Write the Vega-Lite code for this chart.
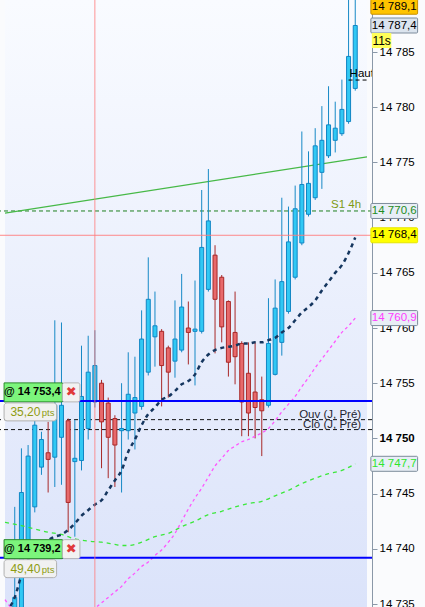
{
  "$schema": "https://vega.github.io/schema/vega-lite/v6.json",
  "width": 372,
  "height": 607,
  "autosize": "none",
  "padding": {"left": 0, "top": 0, "right": 53, "bottom": 0},
  "background": "#fafbfd",
  "config": {
    "view": {"stroke": null},
    "font": "Liberation Sans",
    "axis": {"grid": false}
  },
  "datasets": {
    "candles": [
      {"i":0,"o":14734.0,"h":14743.8,"l":14733.5,"c":14735.6},
      {"i":1,"o":14734.0,"h":14749.1,"l":14733.5,"c":14745.1},
      {"i":2,"o":14740.1,"h":14749.4,"l":14739.7,"c":14748.4},
      {"i":3,"o":14743.8,"h":14752.1,"l":14743.3,"c":14751.2},
      {"i":4,"o":14747.4,"h":14750.6,"l":14746.7,"c":14749.9},
      {"i":5,"o":14748.7,"h":14751.5,"l":14745.1,"c":14748.1},
      {"i":6,"o":14748.3,"h":14760.7,"l":14745.6,"c":14753.0},
      {"i":7,"o":14750.1,"h":14760.5,"l":14745.8,"c":14753.0},
      {"i":8,"o":14751.6,"h":14751.8,"l":14741.5,"c":14744.2},
      {"i":9,"o":14747.9,"h":14751.7,"l":14741.1,"c":14748.2},
      {"i":10,"o":14748.0,"h":14758.4,"l":14747.1,"c":14753.8},
      {"i":11,"o":14750.9,"h":14759.3,"l":14749.9,"c":14756.0},
      {"i":12,"o":14753.3,"h":14759.8,"l":14752.8,"c":14756.6},
      {"i":13,"o":14755.0,"h":14755.3,"l":14747.3,"c":14751.5},
      {"i":14,"o":14753.2,"h":14753.7,"l":14746.4,"c":14750.1},
      {"i":15,"o":14751.8,"h":14752.1,"l":14745.6,"c":14749.4},
      {"i":16,"o":14750.7,"h":14755.0,"l":14745.1,"c":14750.9},
      {"i":17,"o":14750.7,"h":14757.8,"l":14749.9,"c":14754.0},
      {"i":18,"o":14752.3,"h":14757.4,"l":14749.0,"c":14753.7},
      {"i":19,"o":14752.9,"h":14761.6,"l":14752.6,"c":14759.0},
      {"i":20,"o":14756.0,"h":14766.4,"l":14755.7,"c":14762.6},
      {"i":21,"o":14759.2,"h":14763.3,"l":14756.5,"c":14760.2},
      {"i":22,"o":14759.7,"h":14759.9,"l":14752.9,"c":14756.6},
      {"i":23,"o":14758.2,"h":14758.4,"l":14753.7,"c":14756.0},
      {"i":24,"o":14757.0,"h":14762.5,"l":14755.5,"c":14759.0},
      {"i":25,"o":14758.0,"h":14764.9,"l":14757.8,"c":14761.9},
      {"i":26,"o":14760.0,"h":14762.4,"l":14756.7,"c":14759.6},
      {"i":27,"o":14759.7,"h":14764.3,"l":14754.8,"c":14759.9},
      {"i":28,"o":14759.7,"h":14772.5,"l":14759.5,"c":14767.3},
      {"i":29,"o":14763.5,"h":14774.4,"l":14763.3,"c":14769.7},
      {"i":30,"o":14766.6,"h":14767.5,"l":14757.7,"c":14762.6},
      {"i":31,"o":14764.6,"h":14764.8,"l":14758.7,"c":14760.1},
      {"i":32,"o":14762.4,"h":14762.5,"l":14755.6,"c":14756.9},
      {"i":33,"o":14759.6,"h":14763.3,"l":14754.9,"c":14757.4},
      {"i":34,"o":14758.6,"h":14758.8,"l":14750.2,"c":14753.3},
      {"i":35,"o":14755.9,"h":14758.7,"l":14750.2,"c":14752.3},
      {"i":36,"o":14754.2,"h":14758.7,"l":14750.0,"c":14752.8},
      {"i":37,"o":14753.5,"h":14755.6,"l":14748.4,"c":14752.5},
      {"i":38,"o":14753.0,"h":14762.7,"l":14752.8,"c":14758.6},
      {"i":39,"o":14755.8,"h":14764.4,"l":14755.7,"c":14761.8},
      {"i":40,"o":14758.7,"h":14771.8,"l":14757.5,"c":14764.2},
      {"i":41,"o":14761.5,"h":14771.0,"l":14761.3,"c":14767.8},
      {"i":42,"o":14764.6,"h":14772.9,"l":14764.4,"c":14770.8},
      {"i":43,"o":14767.7,"h":14777.8,"l":14767.5,"c":14773.0},
      {"i":44,"o":14770.3,"h":14776.0,"l":14770.1,"c":14773.1},
      {"i":45,"o":14771.8,"h":14778.1,"l":14771.6,"c":14776.5},
      {"i":46,"o":14774.1,"h":14780.1,"l":14772.6,"c":14777.0},
      {"i":47,"o":14775.6,"h":14781.9,"l":14775.4,"c":14778.4},
      {"i":48,"o":14777.0,"h":14780.5,"l":14775.9,"c":14778.1},
      {"i":49,"o":14777.6,"h":14782.5,"l":14777.4,"c":14779.8},
      {"i":50,"o":14778.7,"h":14790.5,"l":14778.5,"c":14784.6},
      {"i":51,"o":14781.7,"h":14790.5,"l":14781.5,"c":14787.4}
    ],
    "ma1": [
      {"i":-1.46,"v":14734.3},{"i":0,"v":14735.6},{"i":1,"v":14737.6},{"i":2,"v":14739.0},{"i":3,"v":14739.9},
      {"i":4,"v":14740.5},{"i":5,"v":14740.8},{"i":6,"v":14741.1},{"i":7,"v":14741.3},{"i":8,"v":14741.7},
      {"i":9,"v":14742.3},{"i":10,"v":14743.0},{"i":11,"v":14743.5},{"i":12,"v":14744.0},{"i":13,"v":14744.4},
      {"i":14,"v":14745.3},{"i":15,"v":14746.2},{"i":16,"v":14747.1},{"i":17,"v":14748.8},{"i":18,"v":14749.9},
      {"i":19,"v":14751.2},{"i":20,"v":14752.2},{"i":21,"v":14752.8},{"i":22,"v":14753.5},{"i":23,"v":14753.8},
      {"i":24,"v":14754.3},{"i":25,"v":14754.9},{"i":26,"v":14755.2},{"i":27,"v":14755.8},{"i":28,"v":14756.9},
      {"i":29,"v":14757.6},{"i":30,"v":14758.0},{"i":31,"v":14758.2},{"i":32,"v":14758.3},{"i":33,"v":14758.4},
      {"i":34,"v":14758.6},{"i":35,"v":14758.6},{"i":36,"v":14758.7},{"i":37,"v":14758.7},{"i":38,"v":14758.9},
      {"i":39,"v":14759.1},{"i":40,"v":14759.6},{"i":41,"v":14760.0},{"i":42,"v":14760.7},{"i":43,"v":14761.4},
      {"i":44,"v":14761.9},{"i":45,"v":14762.5},{"i":46,"v":14763.4},{"i":47,"v":14764.2},{"i":48,"v":14765.0},
      {"i":49,"v":14765.7},{"i":50,"v":14766.8},{"i":51,"v":14768.2}
    ],
    "ma2": [
      {"i":-1.46,"v":14735.4},{"i":-1,"v":14735.0},{"i":0,"v":14734.3},{"i":1,"v":14733.6},{"i":3,"v":14732.8},
      {"i":5,"v":14732.5},{"i":7,"v":14732.4},{"i":9,"v":14732.9},{"i":11,"v":14733.9},{"i":12,"v":14734.6},
      {"i":13,"v":14735.1},{"i":14,"v":14735.6},{"i":15,"v":14736.1},{"i":16,"v":14736.6},{"i":17,"v":14737.3},
      {"i":18,"v":14737.8},{"i":19,"v":14738.4},{"i":20,"v":14738.8},{"i":21,"v":14739.4},{"i":22,"v":14739.9},
      {"i":23,"v":14740.6},{"i":24,"v":14741.4},{"i":25,"v":14742.5},{"i":26,"v":14743.6},{"i":27,"v":14744.6},
      {"i":28,"v":14745.5},{"i":29,"v":14746.5},{"i":30,"v":14747.5},{"i":31,"v":14748.2},{"i":32,"v":14748.9},
      {"i":33,"v":14749.3},{"i":34,"v":14749.7},{"i":35,"v":14749.9},{"i":36,"v":14750.2},{"i":37,"v":14750.5},
      {"i":38,"v":14750.9},{"i":39,"v":14751.6},{"i":40,"v":14752.4},{"i":41,"v":14753.1},{"i":42,"v":14753.8},
      {"i":43,"v":14754.7},{"i":44,"v":14755.5},{"i":45,"v":14756.4},{"i":46,"v":14757.2},{"i":47,"v":14758.0},
      {"i":48,"v":14758.8},{"i":49,"v":14759.6},{"i":50,"v":14760.2},{"i":51,"v":14760.9}
    ],
    "ma3": [
      {"i":-1.46,"v":14742.4},{"i":1,"v":14742.1},{"i":3,"v":14741.8},{"i":5,"v":14741.5},{"i":7,"v":14741.3},
      {"i":9,"v":14740.9},{"i":11,"v":14740.7},{"i":13,"v":14740.6},{"i":15,"v":14740.4},{"i":16,"v":14740.3},
      {"i":17,"v":14740.3},{"i":18,"v":14740.4},{"i":19,"v":14740.6},{"i":21,"v":14741.1},{"i":23,"v":14741.4},
      {"i":25,"v":14742.0},{"i":27,"v":14742.5},{"i":29,"v":14743.1},{"i":31,"v":14743.4},{"i":33,"v":14743.8},
      {"i":35,"v":14744.1},{"i":37,"v":14744.3},{"i":39,"v":14744.8},{"i":41,"v":14745.3},{"i":43,"v":14745.9},
      {"i":45,"v":14746.4},{"i":47,"v":14746.8},{"i":49,"v":14747.1},{"i":51,"v":14747.7}
    ],
    "trend": [{"i":-1.46,"v":14770.4},{"i":52.76,"v":14775.5}],
    "orders": [
      {"p":14753.4,"lbl":"@ 14 753,4","pts":"35,20"},
      {"p":14739.2,"lbl":"@ 14 739,2","pts":"49,40"}
    ],
    "tags": [
      {"p":14789.1,"t":"14 789,1","k":"high"},
      {"p":14787.4,"t":"14 787,4","k":"last"},
      {"p":14770.6,"t":"14 770,6","k":"s1"},
      {"p":14768.4,"t":"14 768,4","k":"cross"},
      {"p":14760.9,"t":"14 760,9","k":"pink"},
      {"p":14747.7,"t":"14 747,7","k":"green"}
    ]
  },
  "layer": [
    {
      "data": {"values": [{"t": "bg"}]},
      "mark": {"type": "rect", "color": {"gradient": "linear", "x1": 0, "y1": 0, "x2": 0, "y2": 1, "stops": [{"offset": 0, "color": "#f9fbff"}, {"offset": 1, "color": "#dbe3fa"}]}},
      "encoding": {
        "x": {"datum": -1.46, "type": "quantitative", "axis": null, "scale": {"domain": [-1.46, 52.76], "nice": false, "zero": false}},
        "x2": {"datum": 52.76},
        "y": {"datum": 14734.73, "type": "quantitative", "scale": {"domain": [14734.73, 14789.71], "nice": false, "zero": false},
          "axis": {"orient": "right", "title": null, "values": [14735,14740,14745,14750,14755,14760,14765,14770,14775,14780,14785],
            "labelExpr": "replace(format(datum.value, ',d'), ',', ' ')", "labelFont": "Liberation Sans", "labelFontSize": 11.5,
            "labelColor": "#000000", "domainColor": "#8a98a8", "tickColor": "#8a98a8", "tickSize": 5, "labelPadding": 2,
            "labelFontWeight": {"condition": {"test": "datum.value == 14750", "value": "bold"}, "value": "normal"}}},
        "y2": {"datum": 14789.71}
      }
    },
    {
      "data": {"values": [{"p":14770.6}]},
      "mark": {"type": "rule", "color": "#1f7f1f", "strokeDash": [4, 3], "strokeWidth": 1},
      "encoding": {"y": {"field": "p", "type": "quantitative"}}
    },
    {
      "data": {"values": [{"p":14751.7},{"p":14750.8}]},
      "mark": {"type": "rule", "color": "#111111", "strokeDash": [4, 3], "strokeWidth": 1},
      "encoding": {"y": {"field": "p", "type": "quantitative"}}
    },
    {
      "data": {"name": "trend"},
      "mark": {"type": "line", "color": "#47b947", "strokeWidth": 1.2, "clip": true},
      "encoding": {
        "x": {"field": "i", "type": "quantitative"},
        "y": {"field": "v", "type": "quantitative"}
      }
    },
    {
      "data": {"name": "candles"},
      "mark": {"type": "rule", "strokeWidth": 1, "clip": true},
      "encoding": {
        "x": {"field": "i", "type": "quantitative"},
        "y": {"field": "l", "type": "quantitative"},
        "y2": {"field": "h"},
        "color": {"condition": {"test": "datum.c >= datum.o", "value": "#1789c6"}, "value": "#a82828"}
      }
    },
    {
      "data": {"name": "candles"},
      "mark": {"type": "bar", "width": 4, "strokeWidth": 1, "clip": true},
      "encoding": {
        "x": {"field": "i", "type": "quantitative"},
        "y": {"field": "o", "type": "quantitative"},
        "y2": {"field": "c"},
        "fill": {"condition": {"test": "datum.c >= datum.o", "value": "#30c8f4"}, "value": "#e8696b"},
        "stroke": {"condition": {"test": "datum.c >= datum.o", "value": "#1186c4"}, "value": "#a82828"}
      }
    },
    {
      "data": {"name": "ma3"},
      "mark": {"type": "line", "color": "#3be83b", "strokeWidth": 1.3, "strokeDash": [4, 4], "clip": true, "interpolate": "monotone"},
      "encoding": {"x": {"field": "i", "type": "quantitative"}, "y": {"field": "v", "type": "quantitative"}}
    },
    {
      "data": {"name": "ma2"},
      "mark": {"type": "line", "color": "#ff55ff", "strokeWidth": 1.3, "strokeDash": [3, 3], "clip": true, "interpolate": "monotone"},
      "encoding": {"x": {"field": "i", "type": "quantitative"}, "y": {"field": "v", "type": "quantitative"}}
    },
    {
      "data": {"name": "ma1"},
      "mark": {"type": "line", "color": "#15365f", "strokeWidth": 2.5, "strokeDash": [4, 4], "clip": true, "interpolate": "monotone"},
      "encoding": {"x": {"field": "i", "type": "quantitative"}, "y": {"field": "v", "type": "quantitative"}}
    },
    {
      "data": {"values": [{"p":14753.4},{"p":14739.2}]},
      "mark": {"type": "rule", "color": "#0000ff", "strokeWidth": 2},
      "encoding": {"y": {"field": "p", "type": "quantitative"}}
    },
    {
      "data": {"values": [{"p":14768.4}]},
      "mark": {"type": "rule", "color": "#ff7b7b", "strokeWidth": 1, "opacity": 0.9},
      "encoding": {"y": {"field": "p", "type": "quantitative"}}
    },
    {
      "data": {"values": [{"t": 12}]},
      "mark": {"type": "rule", "color": "#ff7b7b", "strokeWidth": 1, "opacity": 0.8},
      "encoding": {"x": {"field": "t", "type": "quantitative"}}
    },
    {
      "data": {"values": [{"p":14782.46}]},
      "mark": {"type": "rule", "color": "#000000", "strokeDash": [4, 3], "strokeWidth": 1},
      "encoding": {"y": {"field": "p", "type": "quantitative"}, "x": {"datum": 50, "type": "quantitative"}, "x2": {"datum": 52.76}}
    },
    {
      "data": {"values": [{"p":14782.46,"t":"Haut"}]},
      "mark": {"type": "text", "align": "left", "baseline": "alphabetic", "dy": -3, "dx": 1, "fontSize": 11.5, "color": "#000000", "clip": true},
      "encoding": {"y": {"field": "p", "type": "quantitative"}, "x": {"datum": 50, "type": "quantitative"}, "text": {"field": "t"}}
    },
    {
      "data": {"values": [{"p":14770.6,"t":"S1 4h"}]},
      "mark": {"type": "text", "align": "right", "baseline": "alphabetic", "dy": -3, "fontSize": 11.5, "color": "#7e9a14"},
      "encoding": {"y": {"field": "p", "type": "quantitative"}, "x": {"datum": 51.88, "type": "quantitative"}, "text": {"field": "t"}}
    },
    {
      "data": {"values": [{"p":14751.7,"t":"Ouv (J, Pré)"},{"p":14750.8,"t":"Clô (J, Pré)"}]},
      "mark": {"type": "text", "align": "right", "baseline": "alphabetic", "dy": -2, "fontSize": 11.5, "color": "#1e2430"},
      "encoding": {"y": {"field": "p", "type": "quantitative"}, "x": {"datum": 51.88, "type": "quantitative"}, "text": {"field": "t"}}
    },
    {
      "data": {"name": "orders"},
      "mark": {"type": "rect", "fill": "#7cf57c", "stroke": "#2a8a2a", "strokeWidth": 1, "yOffset": -18, "y2Offset": 1},
      "encoding": {"y": {"field": "p", "type": "quantitative"}, "y2": {"field": "p"}, "x": {"datum": -1.6, "type": "quantitative"}, "x2": {"datum": 7.14}}
    },
    {
      "data": {"name": "orders"},
      "mark": {"type": "rect", "fill": "#f2f2f2", "stroke": "#b5b5b5", "strokeWidth": 1, "cornerRadius": 2, "yOffset": -18, "y2Offset": 1},
      "encoding": {"y": {"field": "p", "type": "quantitative"}, "y2": {"field": "p"}, "x": {"datum": 7.14, "type": "quantitative"}, "x2": {"datum": 9.76}}
    },
    {
      "data": {"name": "orders"},
      "mark": {"type": "rect", "fill": "#f1f1f1", "stroke": "#b0b0b0", "strokeWidth": 1, "cornerRadius": 3, "yOffset": 2, "y2Offset": 20},
      "encoding": {"y": {"field": "p", "type": "quantitative"}, "y2": {"field": "p"}, "x": {"datum": -1.6, "type": "quantitative"}, "x2": {"datum": 6.27}}
    },
    {
      "data": {"name": "orders"},
      "mark": {"type": "text", "align": "left", "baseline": "middle", "dy": -9, "dx": -1, "fontSize": 11, "fontWeight": "bold", "color": "#000000"},
      "encoding": {"y": {"field": "p", "type": "quantitative"}, "x": {"datum": -1.46, "type": "quantitative"}, "text": {"field": "lbl"}}
    },
    {
      "data": {"name": "orders"},
      "mark": {"type": "text", "align": "center", "baseline": "middle", "dy": -9, "fontSize": 13, "font": "DejaVu Sans", "color": "#e03a3a"},
      "encoding": {"y": {"field": "p", "type": "quantitative"}, "x": {"datum": 8.45, "type": "quantitative"}, "text": {"value": "✖"}}
    },
    {
      "data": {"name": "orders"},
      "mark": {"type": "text", "align": "left", "baseline": "middle", "dy": 11, "fontSize": 12, "color": "#8e9c12"},
      "encoding": {"y": {"field": "p", "type": "quantitative"}, "x": {"datum": -0.65, "type": "quantitative"}, "text": {"field": "pts"}}
    },
    {
      "data": {"name": "orders"},
      "mark": {"type": "text", "align": "left", "baseline": "middle", "dy": 12, "fontSize": 9.5, "color": "#8e9c12"},
      "encoding": {"y": {"field": "p", "type": "quantitative"}, "x": {"datum": 4.05, "type": "quantitative"}, "text": {"value": "pts"}}
    },
    {
      "data": {"name": "tags"},
      "mark": {"type": "rect", "strokeWidth": 1, "cornerRadius": 1, "yOffset": -7.5, "y2Offset": 7.5},
      "encoding": {
        "y": {"field": "p", "type": "quantitative"}, "y2": {"field": "p"},
        "x": {"datum": 53.34, "type": "quantitative"}, "x2": {"datum": 60.34},
        "fill": {"field": "k", "type": "nominal", "legend": null, "scale": {"domain": ["high","last","s1","cross","pink","green"], "range": ["#ffc400","#dbe4ee","#e8eef6","#ffff00","#e8eef6","#e8eef6"]}},
        "stroke": {"field": "k", "type": "nominal", "legend": null, "scale": {"domain": ["high","last","s1","cross","pink","green"], "range": ["#c89000","#7d8c9c","#7d8c9c","#e6e600","#7d8c9c","#7d8c9c"]}}
      }
    },
    {
      "data": {"name": "tags"},
      "mark": {"type": "text", "align": "center", "baseline": "middle", "fontSize": 11.5},
      "encoding": {
        "y": {"field": "p", "type": "quantitative"},
        "x": {"datum": 56.84, "type": "quantitative"},
        "text": {"field": "t"},
        "color": {"field": "k", "type": "nominal", "legend": null, "scale": {"domain": ["high","last","s1","cross","pink","green"], "range": ["#000000","#000000","#1e8c1e","#000000","#ff3cff","#2ee62e"]}}
      }
    },
    {
      "data": {"values": [{"t": "11s"}]},
      "mark": {"type": "rect", "fill": "#ffff5a"},
      "encoding": {"y": {"datum": 14786.72, "type": "quantitative"}, "y2": {"datum": 14785.36}, "x": {"datum": 53.49, "type": "quantitative"}, "x2": {"datum": 56.4}}
    },
    {
      "data": {"values": [{"t": "11s"}]},
      "mark": {"type": "text", "align": "center", "baseline": "middle", "fontSize": 12, "color": "#000000"},
      "encoding": {"y": {"datum": 14786.04, "type": "quantitative"}, "x": {"datum": 54.95, "type": "quantitative"}, "text": {"field": "t"}}
    }
  ]
}
